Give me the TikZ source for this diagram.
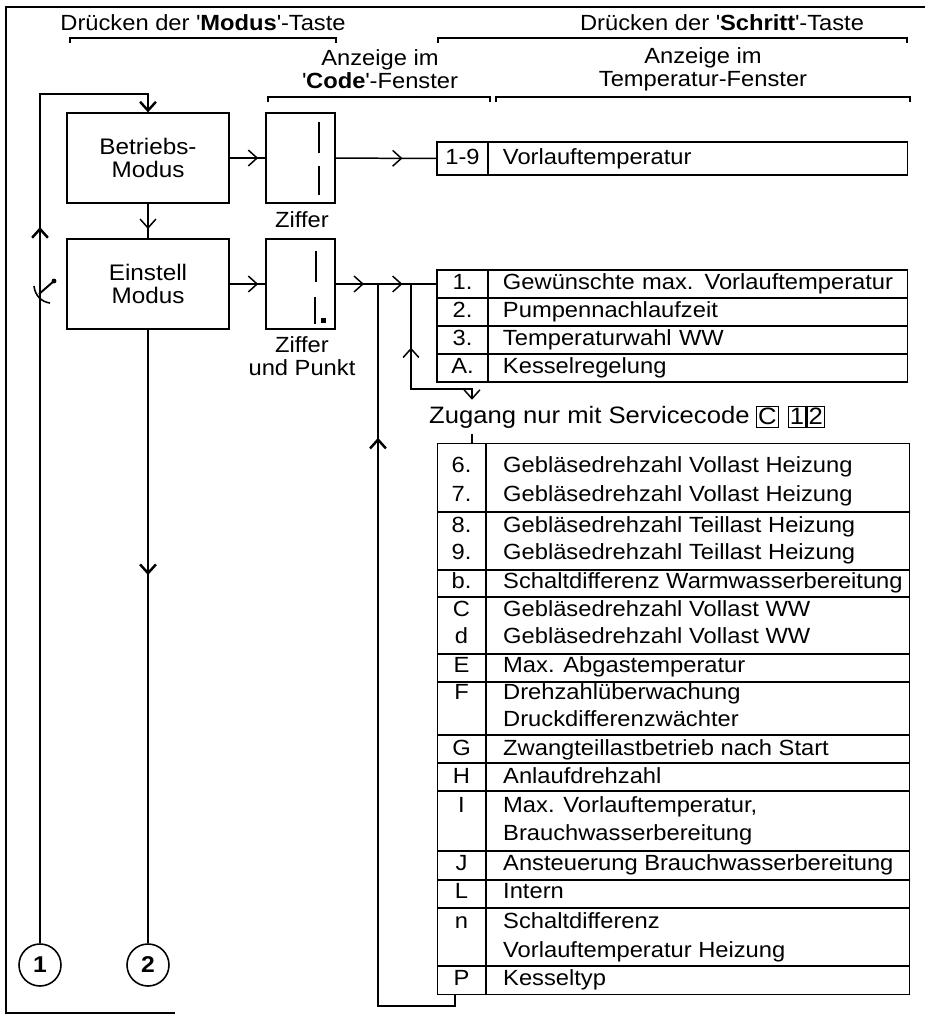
\documentclass[tikz,border=0pt]{standalone}
\usepackage{fontspec}
\setmainfont[FakeStretch=1.08]{Liberation Sans}
\usetikzlibrary{positioning,arrows.meta,decorations.markings}

\begin{document}
\begin{tikzpicture}[x=0.02cm, y=-0.02cm,
    font=\fontsize{12.5}{15}\selectfont,
    >={Straight Barb[length=5pt,width=9pt]},
    modebox/.style={draw, line width=0.7pt, minimum width=3.24cm, minimum height=1.8cm, align=center, font=\fontsize{12.8}{13.6}\selectfont},
    dispbox/.style={draw, line width=0.7pt, minimum width=1.38cm, minimum height=1.8cm},
    segbar/.style={line width=1.7pt},
    keycell/.style={draw, line width=0.6pt, outer sep=0pt, inner ysep=0pt, minimum width=1.02cm, text height=9pt, text depth=2.5pt},
    textcell/.style={draw, line width=0.6pt, outer sep=0pt, inner ysep=0pt, inner xsep=0pt, text width=8.4cm, align=left, text height=9pt, text depth=2.5pt, execute at begin node={\hskip0.3cm}},
    rowkey/.style={text height=9pt, text depth=2.5pt},
    rowtext/.style={anchor=west, text height=9pt, text depth=2.5pt},
    codebox/.style={draw, line width=0.6pt, inner xsep=1pt, inner ysep=1.5pt, text height=9pt, text depth=0pt, font=\fontsize{13.5}{15}\selectfont},
    bracket/.style={line width=0.6pt},
    tabline/.style={line width=0.6pt},
    conn/.style={line width=0.85pt},
    heavy/.style={line width=1.4pt},
    tipat/.style={postaction={decorate}, decoration={markings, mark=at position #1 with {\arrow{>}}}},
    tipback/.style={postaction={decorate}, decoration={markings, mark=at position #1 with {\arrowreversed{>}}}},
    tiptwo/.style={postaction={decorate}, decoration={markings, mark=at position 0.28 with {\arrow{>}}, mark=at position 0.66 with {\arrow{>}}}},
    num/.style={draw, circle, line width=0.9pt, minimum size=0.84cm, inner sep=0pt, font=\fontsize{13}{13}\selectfont\bfseries}]

    \useasboundingbox (0,0) rectangle (925,1015);
    \draw[line width=0.6pt] (925,7) -- (6,7) -- (6,1013) -- (175,1013);

    % headings
    \node (hdrM) at (203,23) {Dr\"ucken der \textquotesingle\textbf{Modus}\textquotesingle-Taste};
    \node (hdrS) at (722,23) {Dr\"ucken der \textquotesingle\textbf{Schritt}\textquotesingle-Taste};
    \draw[bracket] (70,43) -- (70,38) -- (336,38) -- (336,43);
    \draw[bracket] (438,43) -- (438,38) -- (907,38) -- (907,43);
    \node[align=center, font=\fontsize{12.5}{13}\selectfont] (anzC) at (380,69) {Anzeige im\\\textquotesingle\textbf{Code}\textquotesingle-Fenster};
    \node[align=center, font=\fontsize{12.5}{13}\selectfont] (anzT) at (703,69) {Anzeige im\\Temperatur-Fenster};
    \draw[bracket] (268,102) -- (268,97) -- (490,97) -- (490,102);
    \draw[bracket] (496,102) -- (496,97) -- (910,97) -- (910,102);

    % modes and displays
    \node[modebox] (betrieb) at (148,158) {Betriebs-\\Modus};
    \node[modebox] (einstell) at (148,284) {Einstell\\Modus};
    \node[dispbox] (disp1) at (300.5,158) {};
    \node[dispbox] (disp2) at (300.5,284) {};
    \draw[segbar] (319,122) -- (319,153);
    \draw[segbar] (319,166) -- (319,195);
    \draw[segbar] (316,251) -- (316,282);
    \draw[segbar] (315,297) -- (315,324);
    \fill (321,318) rectangle (326,323);
    \node (zif1) at (302,220) {Ziffer};
    \node[align=center, font=\fontsize{12.5}{13}\selectfont] (zif2) at (302,356) {Ziffer\\und Punkt};

    % temperature window
    \node[keycell, minimum height=0.66cm] (k19) at (462.5,158.5) {1-9};
    \node[textcell, minimum height=0.66cm, right=0pt of k19] (v19) {Vorlauftemperatur};

    \foreach \i/\k/\t in {1/1./Gew\"unschte max. Vorlauftemperatur, 2/2./Pumpennachlaufzeit,
        3/3./Temperaturwahl WW, 4/A./Kesselregelung}{
      \node[keycell, minimum height=0.56cm] (ka\i) at (462.5,256+28*\i) {\k};
      \node[textcell, minimum height=0.56cm, right=0pt of ka\i] (ta\i) {\t};
    }

    \node[anchor=west, font=\fontsize{13.5}{15}\selectfont] (zugang) at (423,417) {Zugang nur mit Servicecode};
    \node[codebox, right=0pt of zugang] (svcC) {C};
    \node[codebox, right=5pt of svcC] (svc1) {1};
    \node[codebox, right=0pt of svc1] (svc2) {2};

    % service table
    \node[draw, line width=0.6pt, minimum width=9.46cm, minimum height=11.04cm, inner sep=0pt] (bigtab) at (673.5,719) {};
    \draw[tabline] (486,443) -- (486,995);
    \foreach \y in {512,570,597,654,682,735,763,791,851,880,908,966}
      \draw[tabline] (437,\y) -- (910,\y);
    \foreach \y/\k/\t in {467/6./Gebl\"asedrehzahl Vollast Heizung, 496/7./Gebl\"asedrehzahl Vollast Heizung,
        527/8./Gebl\"asedrehzahl Teillast Heizung, 554/9./Gebl\"asedrehzahl Teillast Heizung,
        583/b./Schaltdifferenz Warmwasserbereitung, 611/C/Gebl\"asedrehzahl Vollast WW,
        638/d/Gebl\"asedrehzahl Vollast WW, 667/E/Max. Abgastemperatur,
        694/F/Drehzahl\"uberwachung, 721/{}/Druckdifferenzw\"achter,
        750/G/Zwangteillastbetrieb nach Start, 778/H/Anlaufdrehzahl,
        807/I/{Max. Vorlauftemperatur,}, 835/{}/Brauchwasserbereitung,
        865/J/Ansteuerung Brauchwasserbereitung, 893/L/Intern,
        923/n/Schaltdifferenz, 952/{}/Vorlauftemperatur Heizung, 980/P/Kesseltyp}{
      \node[rowkey] (bk\y) at (461.5,\y) {\k};
      \node[rowtext] (bt\y) at (497,\y) {\t};
    }

    % entry and exit marks
    \node[num] (c1) at (40,965) {1};
    \node[num] (c2) at (148,965) {2};

    \coordinate (top) at (40,94);
    \coordinate (j1) at (378,284);
    \coordinate (j2) at (411,284);
    \coordinate (zg) at (472,389);
    \coordinate (lowloop) at (455,1006);

    % connectors
    \draw[heavy, ->, tipat=0.734] (c1) |- (top) -| (betrieb);
    \draw[conn, tipat=0.73] (betrieb) -- (einstell);
    \draw[conn, tipat=0.8] (betrieb) -- (disp1);
    \draw[conn, tipat=0.66] (disp1) -- (k19);
    \draw[conn, tipat=0.8] (einstell) -- (disp2);
    \draw[conn, tiptwo] (disp2) -- (ka1);
    \draw[heavy, tipat=0.4] (einstell) -- (c2);
    \draw[heavy, tipback=0.19] (j1) |- (lowloop) -- (lowloop |- bigtab.south);
    \draw[conn, ->, tipback=0.36] (j2) |- (zg) -- (zg |- zugang.north);
    \draw[conn] (zg |- zugang.south) -- (zg |- bigtab.north);

    % key press mark on the return line
    \draw[line width=0.9pt] (34,286) .. controls (35,296) and (42,302) .. (50,303);
    \draw[line width=1.1pt] (39,294) -- (54,281);
    \fill (54,281) circle (1.4pt);
\end{tikzpicture}
\end{document}
